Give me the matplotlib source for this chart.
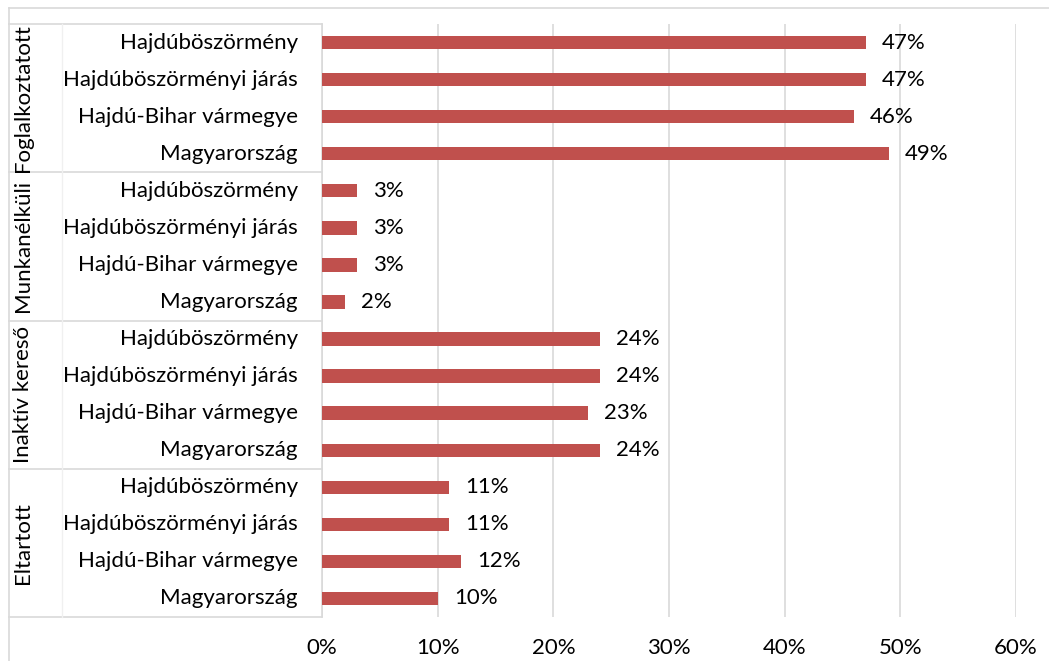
import matplotlib
matplotlib.use("Agg")
import matplotlib.pyplot as plt
from matplotlib.lines import Line2D

groups = ["Foglalkoztatott", "Munkanélküli", "Inaktív kereső", "Eltartott"]
areas = ["Hajdúböszörmény", "Hajdúböszörményi járás", "Hajdú-Bihar vármegye", "Magyarország"]
values = [
    [47, 47, 46, 49],
    [3, 3, 3, 2],
    [24, 24, 23, 24],
    [11, 11, 12, 10],
]
xticks = [0, 10, 20, 30, 40, 50, 60]

plt.rcParams["font.family"] = ["Lato", "DejaVu Sans"]
FS = 16
W, H = 1049, 661
fig = plt.figure(figsize=(W / 100, H / 100), dpi=100)

# plot area in pixels
left, right, top, bottom = 322, 1016, 24, 617
ax = fig.add_axes([left / W, 1 - bottom / H, (right - left) / W, (bottom - top) / H])

vals = [v for g in values for v in g]
labels = [a for g in groups for a in areas]
n = len(vals)
ypos = list(range(n))
bar_color = "#C0504D"
ax.barh(ypos, vals, height=0.36, color=bar_color, zorder=3)
for y, v in zip(ypos, vals):
    ax.text(v + 1.4, y, f"{v}%", va="center", ha="left", fontsize=FS, color="#000000")

ax.set_ylim(n - 0.5, -0.5)
ax.set_xlim(0, 60)
ax.set_xticks(xticks)
ax.set_xticklabels([f"{t}%" for t in xticks], fontsize=FS)
ax.set_yticks([])
ax.tick_params(axis="x", length=0, pad=15)
ax.grid(axis="x", color="#D9D9D9", linewidth=1.2, zorder=0)
for s in ["top", "right", "bottom"]:
    ax.spines[s].set_visible(False)
ax.spines["left"].set_color("#D9D9D9")
ax.spines["left"].set_linewidth(1.2)

# category labels
for y, lab in zip(ypos, labels):
    ax.text(-0.035, y, lab, transform=ax.get_yaxis_transform(), ha="right", va="center", fontsize=FS)

def px(x, y):
    return x / W, 1 - y / H

line_col = "#D9D9D9"
row_h = (bottom - top) / n
bounds = [top + i * 4 * row_h for i in range(len(groups) + 1)]
for b in bounds:
    (x0, y0), (x1, y1) = px(9, b), px(left, b)
    fig.add_artist(Line2D([x0, x1], [y0, y1], color=line_col, lw=1.2))
(x0, y0), (x1, y1) = px(62, top), px(62, bottom)
fig.add_artist(Line2D([x0, x1], [y0, y1], color="#F0F0F0", lw=1.0))

for i, g in enumerate(groups):
    cy = (bounds[i] + bounds[i + 1]) / 2
    fx, fy = px(23, cy)
    fig.text(fx, fy, g, rotation=90, ha="center", va="center", fontsize=FS)

# outer chart border
(x0, y0), (x1, y1) = px(9, 8), px(W, 8)
fig.add_artist(Line2D([x0, x1], [y0, y1], color=line_col, lw=1.2))
(x0, y0), (x1, y1) = px(9, 8), px(9, H)
fig.add_artist(Line2D([x0, x1], [y0, y1], color=line_col, lw=1.2))

fig.savefig("out.png", dpi=100)
